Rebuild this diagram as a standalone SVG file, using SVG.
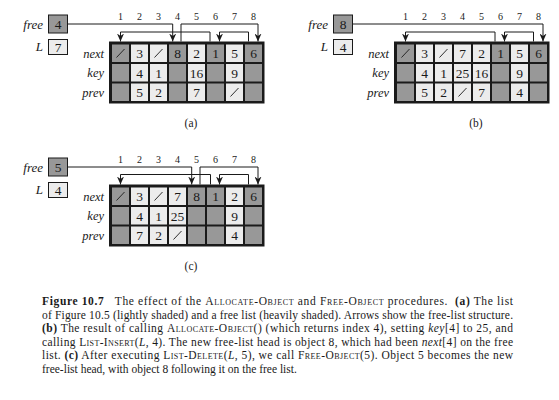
<svg xmlns="http://www.w3.org/2000/svg" width="559" height="400" viewBox="0 0 559 400" font-family="'Liberation Serif', 'Times New Roman', serif">
<style>
text{font-family:'Liberation Serif','Times New Roman',serif;fill:#1a1a1a}
.num{font-size:10px;text-anchor:middle}
.cv{font-size:13.5px;text-anchor:middle}
.rl{font-size:12.5px;font-style:italic;text-anchor:end}
.vl{font-size:13px;font-style:italic;text-anchor:end}
.pl{font-size:11.5px;text-anchor:middle}
.frame{fill:#1a1a1a}
.d{fill:#989898}
.l{fill:#ececec}
.bd{fill:#989898;stroke:#1a1a1a;stroke-width:1}
.bl{fill:#ececec;stroke:#1a1a1a;stroke-width:1}
.sl{stroke:#1a1a1a;stroke-width:0.9}
.cn{fill:none;stroke:#1a1a1a;stroke-width:1}
.ar{marker-end:url(#ah)}
.cap{font-size:11.5px}
.sc{font-variant:small-caps}
</style>
<defs>
<marker id="ah" viewBox="0 0 8 7" refX="8" refY="3.5" markerWidth="8" markerHeight="7" markerUnits="userSpaceOnUse" orient="auto">
<path d="M0,0 L8,3.5 L0,7 L2.4,3.5 z" fill="#1a1a1a"/>
</marker>
<g id="labels">
<text class="num" x="120.5" y="19.5">1</text><text class="num" x="139.5" y="19.5">2</text><text class="num" x="158.5" y="19.5">3</text><text class="num" x="177.5" y="19.5">4</text><text class="num" x="196.5" y="19.5">5</text><text class="num" x="215.5" y="19.5">6</text><text class="num" x="234.5" y="19.5">7</text><text class="num" x="253.5" y="19.5">8</text>
<text class="rl" x="104" y="57.5">next</text><text class="rl" x="104" y="77">key</text><text class="rl" x="104" y="96.5">prev</text>
<text class="vl" x="43" y="29">free</text><text class="vl" x="43" y="51">L</text>
<rect class="frame" x="109" y="41.5" width="155.5" height="62"/>
</g>
</defs>

<!-- Panel (a) -->
<g id="panel-a">
<use href="#labels"/>
<g id="a-free"><rect class="bd" x="48.5" y="15" width="19" height="18"/><text class="cv" x="58" y="29">4</text></g>
<g id="a-L"><rect class="bl" x="48.5" y="39.5" width="19" height="15"/><text class="cv" x="58" y="51.5">7</text></g>
<g id="a-col1"><rect class="d" x="112" y="44.5" width="17" height="17.5"/><rect class="d" x="112" y="64" width="17" height="17.5"/><rect class="d" x="112" y="83.5" width="17" height="17.5"/><line class="sl" x1="116.5" y1="57.5" x2="124.5" y2="49"/></g>
<g id="a-col2"><rect class="l" x="131" y="44.5" width="17" height="17.5"/><rect class="l" x="131" y="64" width="17" height="17.5"/><rect class="l" x="131" y="83.5" width="17" height="17.5"/><text class="cv" x="139.5" y="58">3</text><text class="cv" x="139.5" y="77.5">4</text><text class="cv" x="139.5" y="97">5</text></g>
<g id="a-col3"><rect class="l" x="150" y="44.5" width="17" height="17.5"/><rect class="l" x="150" y="64" width="17" height="17.5"/><rect class="l" x="150" y="83.5" width="17" height="17.5"/><line class="sl" x1="154.5" y1="57.5" x2="162.5" y2="49"/><text class="cv" x="158.5" y="77.5">1</text><text class="cv" x="158.5" y="97">2</text></g>
<g id="a-col4"><rect class="d" x="169" y="44.5" width="17" height="17.5"/><rect class="d" x="169" y="64" width="17" height="17.5"/><rect class="d" x="169" y="83.5" width="17" height="17.5"/><text class="cv" x="177.5" y="58">8</text></g>
<g id="a-col5"><rect class="l" x="188" y="44.5" width="17" height="17.5"/><rect class="l" x="188" y="64" width="17" height="17.5"/><rect class="l" x="188" y="83.5" width="17" height="17.5"/><text class="cv" x="196.5" y="58">2</text><text class="cv" x="196.5" y="77.5">16</text><text class="cv" x="196.5" y="97">7</text></g>
<g id="a-col6"><rect class="d" x="207" y="44.5" width="17" height="17.5"/><rect class="d" x="207" y="64" width="17" height="17.5"/><rect class="d" x="207" y="83.5" width="17" height="17.5"/><text class="cv" x="215.5" y="58">1</text></g>
<g id="a-col7"><rect class="l" x="226" y="44.5" width="17" height="17.5"/><rect class="l" x="226" y="64" width="17" height="17.5"/><rect class="l" x="226" y="83.5" width="17" height="17.5"/><text class="cv" x="234.5" y="58">5</text><text class="cv" x="234.5" y="77.5">9</text><line class="sl" x1="230.5" y1="96.5" x2="238.5" y2="88"/></g>
<g id="a-col8"><rect class="d" x="245" y="44.5" width="17" height="17.5"/><rect class="d" x="245" y="64" width="17" height="17.5"/><rect class="d" x="245" y="83.5" width="17" height="17.5"/><text class="cv" x="253.5" y="58">6</text></g>
<text class="pl" x="191" y="127">(a)</text>
</g>

<!-- Panel (b) -->
<g id="panel-b" transform="translate(285,0)">
<use href="#labels"/>
<g id="b-free"><rect class="bd" x="48.5" y="15" width="19" height="18"/><text class="cv" x="58" y="29">8</text></g>
<g id="b-L"><rect class="bl" x="48.5" y="39.5" width="19" height="15"/><text class="cv" x="58" y="51.5">4</text></g>
<g id="b-col1"><rect class="d" x="112" y="44.5" width="17" height="17.5"/><rect class="d" x="112" y="64" width="17" height="17.5"/><rect class="d" x="112" y="83.5" width="17" height="17.5"/><line class="sl" x1="116.5" y1="57.5" x2="124.5" y2="49"/></g>
<g id="b-col2"><rect class="l" x="131" y="44.5" width="17" height="17.5"/><rect class="l" x="131" y="64" width="17" height="17.5"/><rect class="l" x="131" y="83.5" width="17" height="17.5"/><text class="cv" x="139.5" y="58">3</text><text class="cv" x="139.5" y="77.5">4</text><text class="cv" x="139.5" y="97">5</text></g>
<g id="b-col3"><rect class="l" x="150" y="44.5" width="17" height="17.5"/><rect class="l" x="150" y="64" width="17" height="17.5"/><rect class="l" x="150" y="83.5" width="17" height="17.5"/><line class="sl" x1="154.5" y1="57.5" x2="162.5" y2="49"/><text class="cv" x="158.5" y="77.5">1</text><text class="cv" x="158.5" y="97">2</text></g>
<g id="b-col4"><rect class="l" x="169" y="44.5" width="17" height="17.5"/><rect class="l" x="169" y="64" width="17" height="17.5"/><rect class="l" x="169" y="83.5" width="17" height="17.5"/><text class="cv" x="177.5" y="58">7</text><text class="cv" x="177.5" y="77.5">25</text><line class="sl" x1="173.5" y1="96.5" x2="181.5" y2="88"/></g>
<g id="b-col5"><rect class="l" x="188" y="44.5" width="17" height="17.5"/><rect class="l" x="188" y="64" width="17" height="17.5"/><rect class="l" x="188" y="83.5" width="17" height="17.5"/><text class="cv" x="196.5" y="58">2</text><text class="cv" x="196.5" y="77.5">16</text><text class="cv" x="196.5" y="97">7</text></g>
<g id="b-col6"><rect class="d" x="207" y="44.5" width="17" height="17.5"/><rect class="d" x="207" y="64" width="17" height="17.5"/><rect class="d" x="207" y="83.5" width="17" height="17.5"/><text class="cv" x="215.5" y="58">1</text></g>
<g id="b-col7"><rect class="l" x="226" y="44.5" width="17" height="17.5"/><rect class="l" x="226" y="64" width="17" height="17.5"/><rect class="l" x="226" y="83.5" width="17" height="17.5"/><text class="cv" x="234.5" y="58">5</text><text class="cv" x="234.5" y="77.5">9</text><text class="cv" x="234.5" y="97">4</text></g>
<g id="b-col8"><rect class="d" x="245" y="44.5" width="17" height="17.5"/><rect class="d" x="245" y="64" width="17" height="17.5"/><rect class="d" x="245" y="83.5" width="17" height="17.5"/><text class="cv" x="253.5" y="58">6</text></g>
<text class="pl" x="191" y="127">(b)</text>
</g>

<!-- Panel (c) -->
<g id="panel-c" transform="translate(0,143)">
<use href="#labels"/>
<g id="c-free"><rect class="bd" x="48.5" y="15" width="19" height="18"/><text class="cv" x="58" y="29">5</text></g>
<g id="c-L"><rect class="bl" x="48.5" y="39.5" width="19" height="15"/><text class="cv" x="58" y="51.5">4</text></g>
<g id="c-col1"><rect class="d" x="112" y="44.5" width="17" height="17.5"/><rect class="d" x="112" y="64" width="17" height="17.5"/><rect class="d" x="112" y="83.5" width="17" height="17.5"/><line class="sl" x1="116.5" y1="57.5" x2="124.5" y2="49"/></g>
<g id="c-col2"><rect class="l" x="131" y="44.5" width="17" height="17.5"/><rect class="l" x="131" y="64" width="17" height="17.5"/><rect class="l" x="131" y="83.5" width="17" height="17.5"/><text class="cv" x="139.5" y="58">3</text><text class="cv" x="139.5" y="77.5">4</text><text class="cv" x="139.5" y="97">7</text></g>
<g id="c-col3"><rect class="l" x="150" y="44.5" width="17" height="17.5"/><rect class="l" x="150" y="64" width="17" height="17.5"/><rect class="l" x="150" y="83.5" width="17" height="17.5"/><line class="sl" x1="154.5" y1="57.5" x2="162.5" y2="49"/><text class="cv" x="158.5" y="77.5">1</text><text class="cv" x="158.5" y="97">2</text></g>
<g id="c-col4"><rect class="l" x="169" y="44.5" width="17" height="17.5"/><rect class="l" x="169" y="64" width="17" height="17.5"/><rect class="l" x="169" y="83.5" width="17" height="17.5"/><text class="cv" x="177.5" y="58">7</text><text class="cv" x="177.5" y="77.5">25</text><line class="sl" x1="173.5" y1="96.5" x2="181.5" y2="88"/></g>
<g id="c-col5"><rect class="d" x="188" y="44.5" width="17" height="17.5"/><rect class="d" x="188" y="64" width="17" height="17.5"/><rect class="d" x="188" y="83.5" width="17" height="17.5"/><text class="cv" x="196.5" y="58">8</text></g>
<g id="c-col6"><rect class="d" x="207" y="44.5" width="17" height="17.5"/><rect class="d" x="207" y="64" width="17" height="17.5"/><rect class="d" x="207" y="83.5" width="17" height="17.5"/><text class="cv" x="215.5" y="58">1</text></g>
<g id="c-col7"><rect class="l" x="226" y="44.5" width="17" height="17.5"/><rect class="l" x="226" y="64" width="17" height="17.5"/><rect class="l" x="226" y="83.5" width="17" height="17.5"/><text class="cv" x="234.5" y="58">2</text><text class="cv" x="234.5" y="77.5">9</text><text class="cv" x="234.5" y="97">4</text></g>
<g id="c-col8"><rect class="d" x="245" y="44.5" width="17" height="17.5"/><rect class="d" x="245" y="64" width="17" height="17.5"/><rect class="d" x="245" y="83.5" width="17" height="17.5"/><text class="cv" x="253.5" y="58">6</text></g>
<text class="pl" x="191" y="127">(c)</text>
</g>

<!-- Connectors -->
<g id="connectors">
<g id="conn-a">
<path class="cn ar" d="M67.5,24 H172.7 V41.5"/>
<path class="cn ar" d="M181,41.5 V24 H258 V41.5"/>
<path class="cn ar" d="M210,41.5 V32 H120.5 V41.5"/>
<path class="cn ar" d="M248.5,41.5 V32 H219.5 V41.5"/>
</g>
<g id="conn-b" transform="translate(285,0)">
<path class="cn ar" d="M67.5,24 H258 V41.5"/>
<path class="cn ar" d="M210,41.5 V32 H120.5 V41.5"/>
<path class="cn ar" d="M248.5,41.5 V32 H219.5 V41.5"/>
</g>
<g id="conn-c" transform="translate(0,143)">
<path class="cn ar" d="M67.5,24 H191.7 V41.5"/>
<path class="cn ar" d="M200,41.5 V24 H258 V41.5"/>
<path class="cn ar" d="M210.5,41.5 V31.5 H120.5 V41.5"/>
<path class="cn ar" d="M248.5,41.5 V31.5 H219.5 V41.5"/>
</g>
</g>

<!-- Caption -->
<g id="caption" class="cap">
<text class="cap" x="42" y="305" textLength="471" lengthAdjust="spacing" xml:space="preserve"><tspan font-weight="bold">Figure 10.7</tspan>   The effect of the <tspan class="sc">Allocate-Object</tspan> and <tspan class="sc">Free-Object</tspan> procedures.  <tspan font-weight="bold">(a)</tspan> The list</text>
<text class="cap" x="42" y="318.5" textLength="471" lengthAdjust="spacing">of Figure 10.5 (lightly shaded) and a free list (heavily shaded). Arrows show the free-list structure.</text>
<text class="cap" x="42" y="332" textLength="471" lengthAdjust="spacing"><tspan font-weight="bold">(b)</tspan> The result of calling <tspan class="sc">Allocate-Object</tspan>() (which returns index 4), setting <tspan font-style="italic">key</tspan>[4] to 25, and</text>
<text class="cap" x="42" y="345.5" textLength="471" lengthAdjust="spacing">calling <tspan class="sc">List-Insert</tspan>(<tspan font-style="italic">L</tspan>, 4). The new free-list head is object 8, which had been <tspan font-style="italic">next</tspan>[4] on the free</text>
<text class="cap" x="42" y="359" textLength="471" lengthAdjust="spacing">list. <tspan font-weight="bold">(c)</tspan> After executing <tspan class="sc">List-Delete</tspan>(<tspan font-style="italic">L</tspan>, 5), we call <tspan class="sc">Free-Object</tspan>(5). Object 5 becomes the new</text>
<text class="cap" x="42" y="372.5">free-list head, with object 8 following it on the free list.</text>
</g>
</svg>
